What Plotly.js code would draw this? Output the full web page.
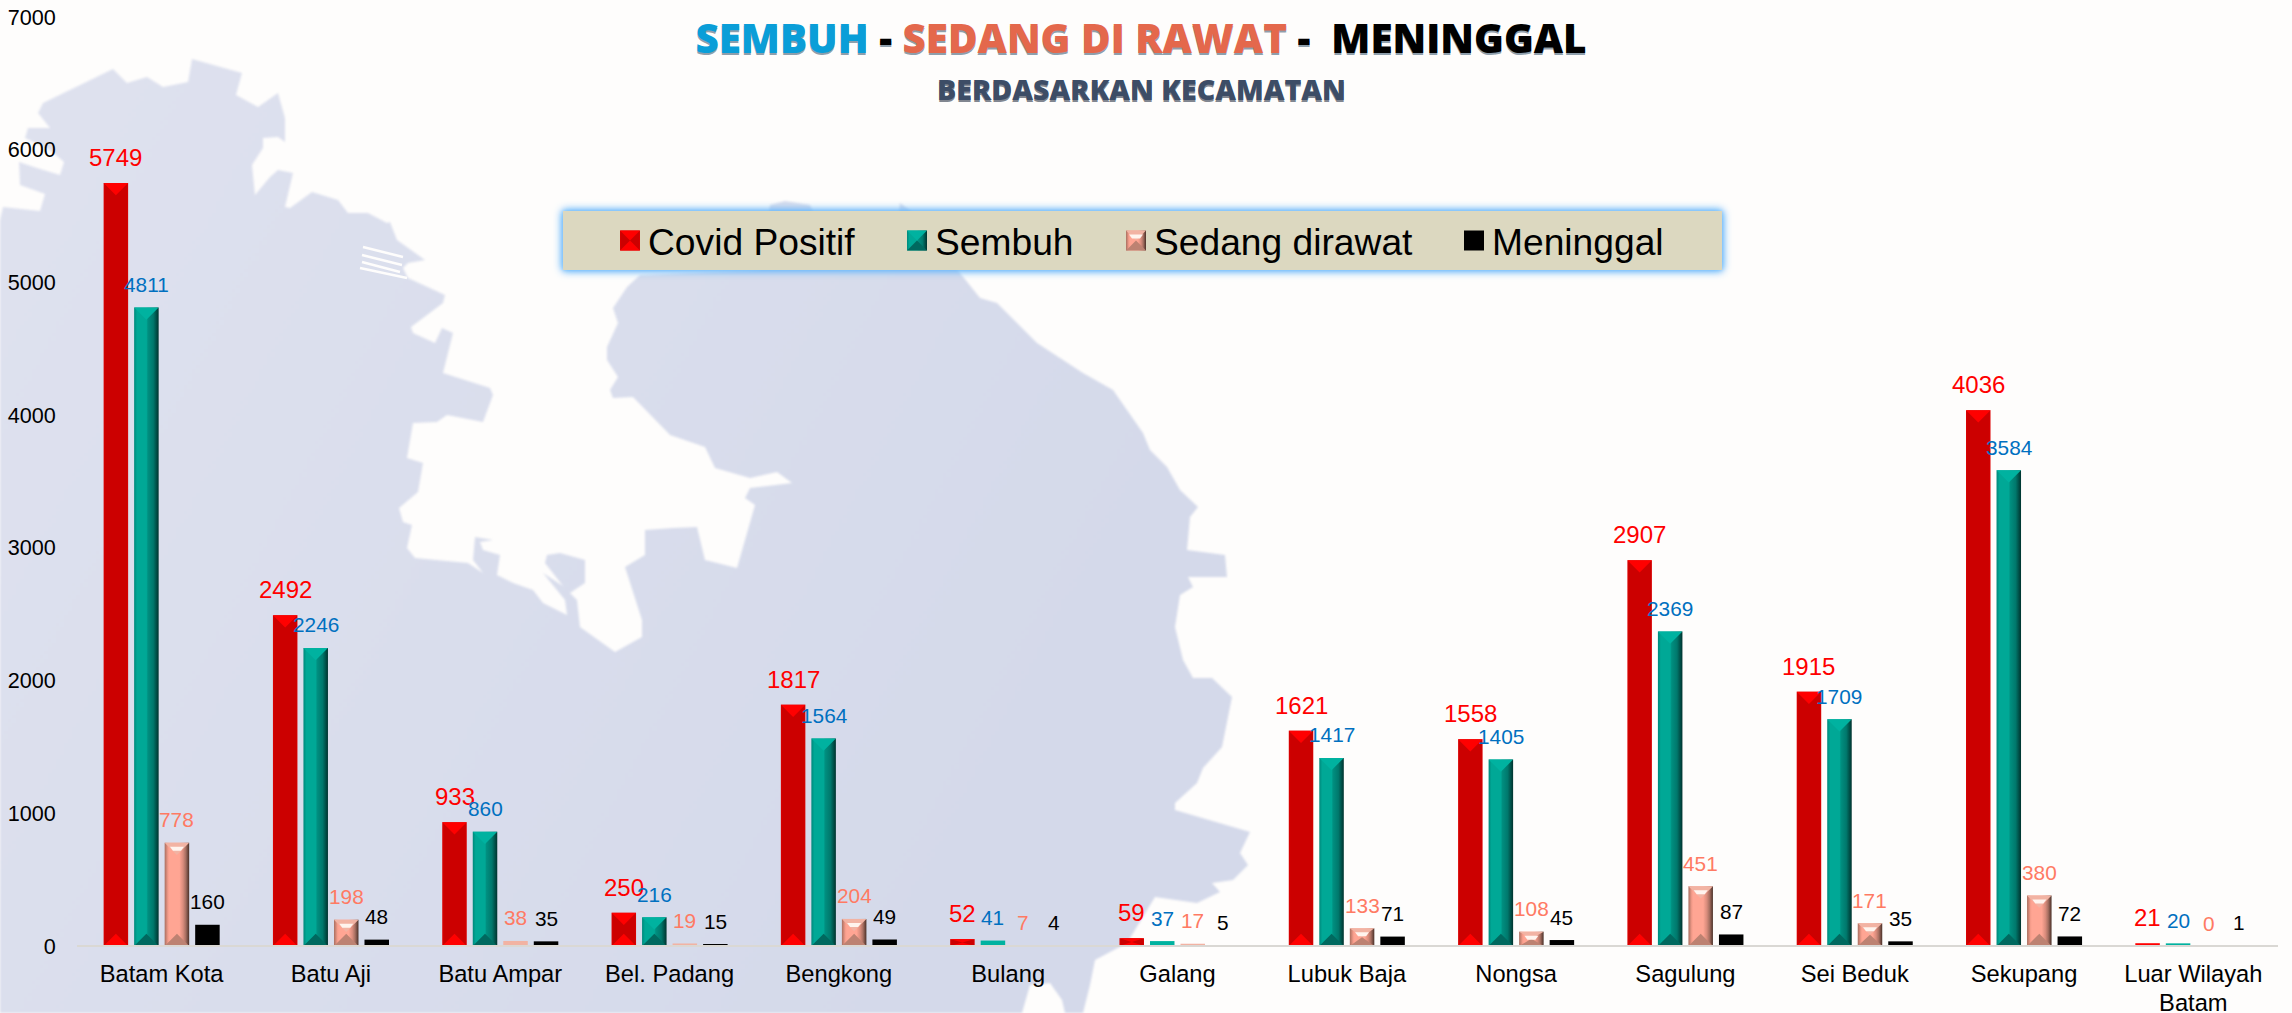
<!DOCTYPE html>
<html>
<head>
<meta charset="utf-8">
<script src="https://cdn.plot.ly/plotly-3.0.1.min.js"></script>
<style>
html,body{margin:0;padding:0;width:2292px;height:1013px;overflow:hidden;background:#fefdfc}
#bg{position:absolute;left:0;top:0}
#chart{position:absolute;left:0;top:0;width:2292px;height:1013px}
#map{filter:blur(0.8px)}
</style>
</head>
<body>
<svg id="bg" width="2292" height="1013" xmlns="http://www.w3.org/2000/svg">
<defs>
<linearGradient id="land" x1="0" y1="0" x2="1" y2="0.4"><stop offset="0" stop-color="#dfe2ef"/><stop offset="1" stop-color="#d4d9ea"/></linearGradient>
<linearGradient id="gRed" x1="0" y1="0" x2="1" y2="0"><stop offset="0" stop-color="#dc0000"/><stop offset=".08" stop-color="#cc0000"/><stop offset=".94" stop-color="#cc0000"/><stop offset="1" stop-color="#dc0000"/></linearGradient>
<linearGradient id="gTeal" x1="0" y1="0" x2="1" y2="0"><stop offset="0" stop-color="#00887b"/><stop offset=".12" stop-color="#00a896"/><stop offset=".5" stop-color="#00a896"/><stop offset=".56" stop-color="#008f80"/><stop offset=".78" stop-color="#00786c"/><stop offset="1" stop-color="#00332e"/></linearGradient>
<linearGradient id="gSalmon" x1="0" y1="0" x2="1" y2="0"><stop offset="0" stop-color="#a86f60"/><stop offset=".14" stop-color="#f59c8a"/><stop offset=".2" stop-color="#ffa593"/><stop offset=".6" stop-color="#ffa593"/><stop offset=".75" stop-color="#d98c7c"/><stop offset=".86" stop-color="#a87062"/><stop offset="1" stop-color="#4a3028"/></linearGradient>
</defs>
<path id="map" fill="url(#land)" d="M0,220 3,207 40,211 45,194 20,185 19,162 37,168 60,175 64,162 50,150 25,138 28,128 50,128 38,113 43,103 113,69 127,83 147,77 163,87 188,82 192,59 242,73 236,95 258,107 278,93 285,118 285,142 278,137 263,138 263,148 252,165 255,195 270,177 278,170 293,173 285,207 290,208 312,192 338,200 348,213 368,213 387,223 390,222 397,240 425,260 408,263 403,268 408,278 445,295 443,303 411,327 413,333 435,343 442,328 453,333 443,373 490,388 493,395 483,422 447,415 437,422 413,423 407,458 423,463 418,492 399,508 403,522 412,525 407,548 415,558 468,563 483,573 473,560 475,537 493,540 480,542 483,550 500,555 497,575 513,583 533,590 543,603 567,615 565,600 543,573 563,586 545,563 547,555 560,553 585,560 585,583 570,593 577,600 580,627 615,652 642,637 642,620 625,567 645,555 645,530 673,528 697,527 705,560 737,568 755,505 745,498 750,488 792,483 777,472 750,478 715,468 705,447 670,435 633,397 613,398 610,390 618,377 607,360 607,347 618,323 613,308 627,287 640,275 760,270 770,205 785,201 810,205 830,250 895,250 900,203 912,212 960,273 980,298 997,303 1037,343 1083,373 1113,390 1143,433 1150,450 1167,467 1180,490 1198,507 1190,517 1187,550 1225,555 1227,577 1188,577 1193,587 1180,595 1175,627 1183,660 1193,678 1212,678 1232,697 1222,747 1203,768 1197,783 1175,803 1175,810 1250,832 1240,853 1248,865 1233,880 1212,883 1220,892 1197,903 1155,897 1127,943 1095,960 1090,985 1083,1013 1065,1013 1062,1000 1050,983 1030,985 1022,1013 0,1013Z"/>
<path fill="none" stroke="#fefdfc" stroke-width="2.5" d="M363,247 403,257M362,255 402,265M362,262 400,272M360,268 407,278"/>
</svg>
<div id="chart"></div>
<script>
// ---- data ----
const categories = ["Batam Kota","Batu Aji","Batu Ampar","Bel. Padang","Bengkong","Bulang","Galang","Lubuk Baja","Nongsa","Sagulung","Sei Beduk","Sekupang","Luar Wilayah<br>Batam"];
const covidPositif = [5749,2492,933,250,1817,52,59,1621,1558,2907,1915,4036,21];
const sembuh       = [4811,2246,860,216,1564,41,37,1417,1405,2369,1709,3584,20];
const sedangDirawat= [778,198,38,19,204,7,17,133,108,451,171,380,0];
const meninggal    = [160,48,35,15,49,4,5,71,45,87,35,72,1];
const seriesNames  = ["Covid Positif","Sembuh","Sedang dirawat","Meninggal"];
const yTicks = [0,1000,2000,3000,4000,5000,6000,7000];

const FONT = '"Liberation Sans", Arial, sans-serif';
const seriesValues = [covidPositif, sembuh, sedangDirawat, meninggal];
const barColors   = ['#cc0000','#00a896','#ffa593','#000000'];
const labelColors = ['#ff0000','#0070c0','#ff7a63','#000000'];
const labelSizes  = [24,20.8,20.8,20.8];
const labelLift   = [10,9.5,9.5,9.5];
const slotPx = 30.5;

const traces = seriesValues.map((vals,i)=>({
  type:'bar', name:seriesNames[i], x:categories, y:vals,
  marker:{color:barColors[i], line:{width:0}}, hoverinfo:'skip'
}));

const annotations = [];
seriesValues.forEach((vals,i)=>{
  vals.forEach((v,j)=>annotations.push({
    x:categories[j], y:v, xref:'x', yref:'y', text:String(v), showarrow:false,
    xanchor:'center', yanchor:'bottom', xshift:(i-1.5)*slotPx, yshift:labelLift[i],
    font:{family:FONT,size:labelSizes[i],color:labelColors[i]}
  }));
});
annotations.push({
  xref:'paper', yref:'paper', x:(1141-76.5)/2201.5, y:(946-89)/928.9,
  xanchor:'center', yanchor:'middle', showarrow:false,
  text:'BERDASARKAN KECAMATAN',
  font:{family:'"Open Sans", sans-serif',size:28.6,weight:800,color:'#3d4d66',shadow:'0 2px 0 rgba(20,30,50,.55)'}
});

const layout = {
  width:2292, height:1013,
  paper_bgcolor:'rgba(0,0,0,0)', plot_bgcolor:'rgba(0,0,0,0)',
  margin:{l:76.5,r:14,t:17.1,b:67,pad:0},
  barmode:'group', bargap:0.279, bargroupgap:0.197,
  font:{family:FONT,color:'#000'},
  title:{
    text:'<span style="color:#0a9ed8">SEMBUH</span><span style="color:#000"> - </span><span style="color:#e4684c">SEDANG DI RAWAT</span><span style="color:#000"> -  MENINGGAL</span>',
    x:1141/2292, xanchor:'center', xref:'container', y:1-39/1013, yanchor:'middle', yref:'container',
    font:{family:'"Open Sans", sans-serif',size:40.4,weight:800,shadow:'0 2px 0 rgba(0,40,70,.45)'}
  },
  xaxis:{type:'category', categoryorder:'array', categoryarray:categories, tickmode:'array', tickvals:categories, ticktext:categories,
    showgrid:false, zeroline:false, showline:true, linecolor:'#dad8d4', linewidth:2,
    ticks:'outside', ticklen:6, tickcolor:'rgba(0,0,0,0)', tickfont:{family:FONT,size:23.7,color:'#000'}, tickangle:0, automargin:false},
  yaxis:{range:[0,7000], tickmode:'array', tickvals:yTicks, showgrid:false, zeroline:false, showline:false,
    ticks:'outside', ticklen:16, tickcolor:'rgba(0,0,0,0)', tickfont:{family:FONT,size:21.6,color:'#000'}, automargin:false},
  showlegend:true,
  legend:{orientation:'h', x:0.3, y:0.9, xanchor:'left', yanchor:'top', bgcolor:'#dcd8c0', borderwidth:0,
    font:{family:FONT,size:37.2,color:'#000'}, traceorder:'normal', itemclick:false, itemdoubleclick:false},
  annotations
};

const SVGNS='http://www.w3.org/2000/svg';
const bevelStyle = [
  {fill:'url(#gRed)', top:'#ff0000', bottom:'#ff0000'},
  {fill:'url(#gTeal)', top:'#00b2a0', bottom:'#00695f'},
  {fill:'url(#gSalmon)', top:'#f2b3a3', bottom:'#bd8272', hi:'#fff4ee'},
  null
];
function tri(parent, d, color, tf){
  const p=document.createElementNS(SVGNS,'path');
  p.setAttribute('d',d); p.setAttribute('style','fill:'+color+';stroke:none');
  if(tf) p.setAttribute('transform',tf);
  parent.appendChild(p);
}
function bevel(path, st){
  if(!st) return;
  const b=path.getBBox();
  if(b.height<=0||b.width<=0) return;
  path.style.fill = b.height>=6 ? st.fill : st.top;
  const w=b.width,h=b.height,cx=b.x+w/2,dep=Math.min(w/2,h/2);
  if(h<6) return;
  const g=path.parentNode, tf=path.getAttribute('transform');
  tri(g,`M${b.x},${b.y}H${b.x+w}L${cx},${b.y+dep}Z`,st.top,tf);
  tri(g,`M${b.x},${b.y+h}H${b.x+w}L${cx},${b.y+h-dep}Z`,st.bottom,tf);
  if(st.hi && h>14){ tri(g,`M${cx-7},${b.y+4}H${cx+7}L${cx+4},${b.y+8}H${cx-4}Z`,st.hi,tf); }
}

Plotly.newPlot('chart',traces,layout,{displayModeBar:false,responsive:false}).then(()=>{
  const root=document.getElementById('chart');
  root.querySelectorAll('.barlayer .trace').forEach((tr,i)=>{
    tr.querySelectorAll('.point path').forEach(p=>bevel(p,bevelStyle[i]));
  });
  // the baseline sits centred on zero, over the foot of the bars
  const xl=root.querySelector('path.xlines-above'); if(xl) xl.setAttribute('transform','translate(0,-1)');
  // tighter second line for the wrapped category label
  root.querySelectorAll('.xtick text tspan.line').forEach((t,i)=>{
    if(i>0 && t.hasAttribute('y')) t.setAttribute('y',parseFloat(t.getAttribute('y'))-2);
  });
  // legend box and entries
  const leg=root.querySelector('.legend');
  leg.setAttribute('transform','translate(563,211)');
  const bg=leg.querySelector('rect.bg');
  bg.setAttribute('width',1159); bg.setAttribute('height',59);
  bg.style.filter='drop-shadow(0 0 4px #5fb3fb) drop-shadow(0 0 2px #7cc2fb)';
  const sb=leg.querySelector('.scrollbox'); if(sb){sb.removeAttribute('clip-path'); sb.setAttribute('transform','translate(0,0)');}
  const glyphCenters=[630,917,1136,1474];
  leg.querySelectorAll('.traces').forEach((t,i)=>{
    t.setAttribute('transform',`translate(${glyphCenters[i]-563-20},29.5)`);
    const tx=t.querySelector('.legendtext'); if(tx) tx.setAttribute('x',38);
    const lp=t.querySelector('.legendpoints path');
    if(lp){
      lp.setAttribute('d','M10,10H-10V-10H10Z');
      bevel(lp,bevelStyle[i]);
    }
  });
});
</script>
</body>
</html>
